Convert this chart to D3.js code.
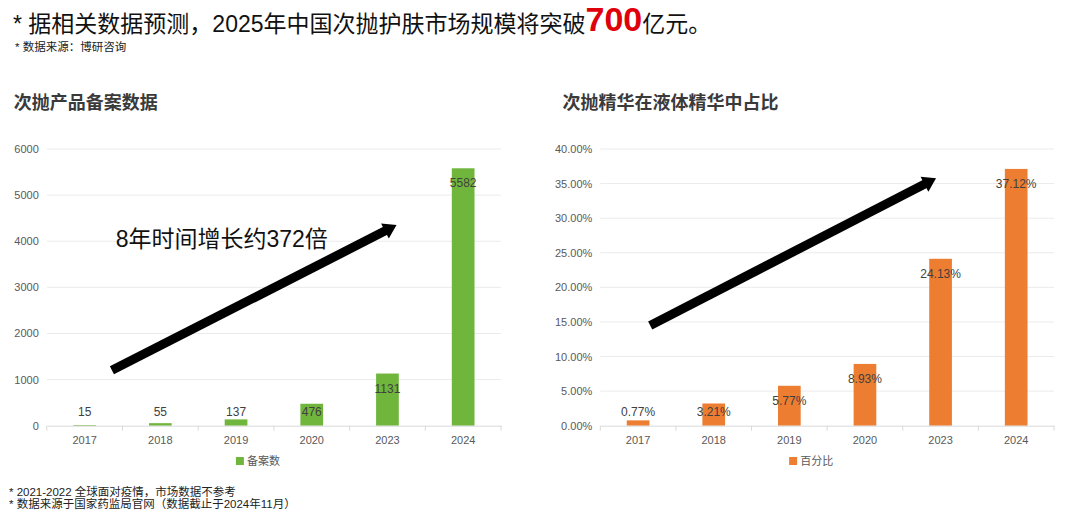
<!DOCTYPE html>
<html>
<head>
<meta charset="utf-8">
<script src="https://cdn.jsdelivr.net/npm/d3@7"></script>
<style>
  body { margin: 0; background: #fff; }
  svg { display: block; }
  text { font-family: "Liberation Sans", Arial, "Noto Sans CJK SC", sans-serif; }
</style>
</head>
<body>
<div id="chart"></div>
<script>
// data
const years = ["2017", "2018", "2019", "2020", "2023", "2024"]
const filings = [15, 55, 137, 476, 1131, 5582]          // 备案数
const shares = [0.77, 3.21, 5.77, 8.93, 24.13, 37.12]   // 百分比 (%)
const filingTicks = [0, 1000, 2000, 3000, 4000, 5000, 6000]
const shareTicks = [0, 5, 10, 15, 20, 25, 30, 35, 40]

const width = 1080,
    height = 528

const svg = d3.select("#chart")
    .append("svg")
    .attr("width", width)
    .attr("height", height)

// headline
const head = svg.append("text")
    .attr("x", 13)
    .attr("y", 31.5)
    .attr("font-size", 23)
    .attr("fill", "#111")
head.append("tspan").text("* 据相关数据预测，2025年中国次抛护肤市场规模将突破")
head.append("tspan")
    .attr("font-size", 34)
    .attr("font-weight", "bold")
    .attr("fill", "#e0000b")
    .attr("dy", -0.5)
    .text("700")
head.append("tspan").attr("dy", 0.5).text("亿元。")

svg.append("text")
    .attr("x", 15)
    .attr("y", 51)
    .attr("font-size", 11.5)
    .attr("fill", "#222")
    .text("* 数据来源：博研咨询")

// footnotes
const notes = ["* 2021-2022 全球面对疫情，市场数据不参考", "* 数据来源于国家药监局官网（数据截止于2024年11月）"]
svg.append("g").selectAll("text")
    .data(notes)
    .join("text")
    .attr("x", 9)
    .attr("y", (d, i) => 495.5 + i * 12.8)
    .attr("font-size", 11.5)
    .attr("fill", "#222")
    .text(d => d)

// one bar panel
function panel(opt) {
    const g = svg.append("g")
    const x = d3.scaleBand().domain(years).range([opt.x0, opt.x1])
    const xi = d3.scaleLinear().domain([0, years.length]).range([opt.x0, opt.x1])
    const y = d3.scaleLinear().domain([0, d3.max(opt.ticks)]).range([425.7, 149])
    const y0 = y(0)

    g.append("text")
        .attr("x", opt.titleX)
        .attr("y", 109)
        .attr("font-size", 18)
        .attr("font-weight", "bold")
        .attr("fill", "#3a3a3a")
        .text(opt.title)

    // gridlines
    g.append("g").selectAll("line")
        .data(opt.ticks.filter(t => t > 0))
        .join("line")
        .attr("x1", opt.x0).attr("x2", opt.x1)
        .attr("y1", d => y(d)).attr("y2", d => y(d))
        .attr("stroke", "#ebebeb")

    // y axis labels
    const ya = g.append("g")
        .attr("transform", `translate(${opt.x0},0)`)
        .call(d3.axisLeft(y).tickValues(opt.ticks).tickFormat(opt.tickFmt).tickSize(0).tickPadding(8))
    ya.select(".domain").remove()
    ya.selectAll("text").attr("font-size", 11).attr("fill", "#595959").attr("font-family", null)

    // bars
    const bw = x.bandwidth() * 0.3
    g.append("g").selectAll("rect")
        .data(opt.values)
        .join("rect")
        .attr("x", (d, i) => x(years[i]) + (x.bandwidth() - bw) / 2)
        .attr("y", d => y(d))
        .attr("width", bw)
        .attr("height", d => y0 - y(d))
        .attr("fill", opt.color)

    // x axis
    const xa = g.append("g")
        .attr("transform", `translate(0,${y0})`)
        .call(d3.axisBottom(x).tickSize(0).tickSizeOuter(0).tickPadding(11))
    xa.select(".domain").attr("stroke", "#d9d9d9")
    xa.selectAll("text").attr("font-size", 11).attr("fill", "#595959").attr("font-family", null)
    g.append("g").selectAll("line")
        .data(d3.range(years.length + 1))
        .join("line")
        .attr("x1", d => xi(d)).attr("x2", d => xi(d))
        .attr("y1", y0).attr("y2", y0 + 5)
        .attr("stroke", "#d9d9d9")

    // value labels
    g.append("g").selectAll("text")
        .data(opt.values)
        .join("text")
        .attr("x", (d, i) => x(years[i]) + x.bandwidth() / 2)
        .attr("y", d => Math.min(y(d) + 15, y0 - 14))
        .attr("dy", "0.35em")
        .attr("text-anchor", "middle")
        .attr("font-size", 12)
        .attr("fill", "#404040")
        .text(opt.labelFmt)

    // legend
    const lg = g.append("g")
    const lt = lg.append("text")
        .attr("x", 11)
        .attr("dy", "0.35em")
        .attr("font-size", 11)
        .attr("fill", "#595959")
        .text(opt.legend)
    const tw = lt.node().getComputedTextLength()
    lg.append("rect")
        .attr("x", 0)
        .attr("y", -4)
        .attr("width", 8)
        .attr("height", 8)
        .attr("fill", opt.color)
    lg.attr("transform", `translate(${(opt.x0 + opt.x1) / 2 - 16 - (tw + 11) / 2},461)`)

    // trend arrow
    const p0 = [xi(opt.arrow.from[0]), y(opt.arrow.from[1])]
    const p1 = [xi(opt.arrow.to[0]), y(opt.arrow.to[1])]
    const len = Math.hypot(p1[0] - p0[0], p1[1] - p0[1])
    const u = [(p1[0] - p0[0]) / len, (p1[1] - p0[1]) / len]
    const n = [-u[1], u[0]]
    const hl = 13, hw = 8.5
    g.append("line")
        .attr("x1", p0[0]).attr("y1", p0[1])
        .attr("x2", p1[0] - u[0] * (hl - 2)).attr("y2", p1[1] - u[1] * (hl - 2))
        .attr("stroke", "#000")
        .attr("stroke-width", 9)
    const b = [p1[0] - u[0] * hl, p1[1] - u[1] * hl]
    g.append("path")
        .attr("d", d3.line()([p1, [b[0] + n[0] * hw, b[1] + n[1] * hw], [b[0] - n[0] * hw, b[1] - n[1] * hw]]) + "Z")
        .attr("fill", "#000")

    if (opt.note) {
        g.append("text")
            .attr("x", xi(opt.note.at[0]))
            .attr("y", y(opt.note.at[1]))
            .attr("font-size", 23)
            .attr("fill", "#111")
            .text(opt.note.text)
    }
}

panel({
    x0: 46.8, x1: 501,
    title: "次抛产品备案数据", titleX: 13.8,
    values: filings, ticks: filingTicks,
    tickFmt: d => d, labelFmt: d => d,
    color: "#70b63c", legend: "备案数",
    arrow: { from: [0.86, 1200], to: [4.62, 4350] },
    note: { at: [0.91, 3876], text: "8年时间增长约372倍" }
})

panel({
    x0: 600.3, x1: 1054,
    title: "次抛精华在液体精华中占比", titleX: 562.4,
    values: shares, ticks: shareTicks,
    tickFmt: d => d.toFixed(2) + "%", labelFmt: d => d.toFixed(2) + "%",
    color: "#ed7d31", legend: "百分比",
    arrow: { from: [0.66, 14.5], to: [4.44, 35.76] }
})
</script>
</body>
</html>
